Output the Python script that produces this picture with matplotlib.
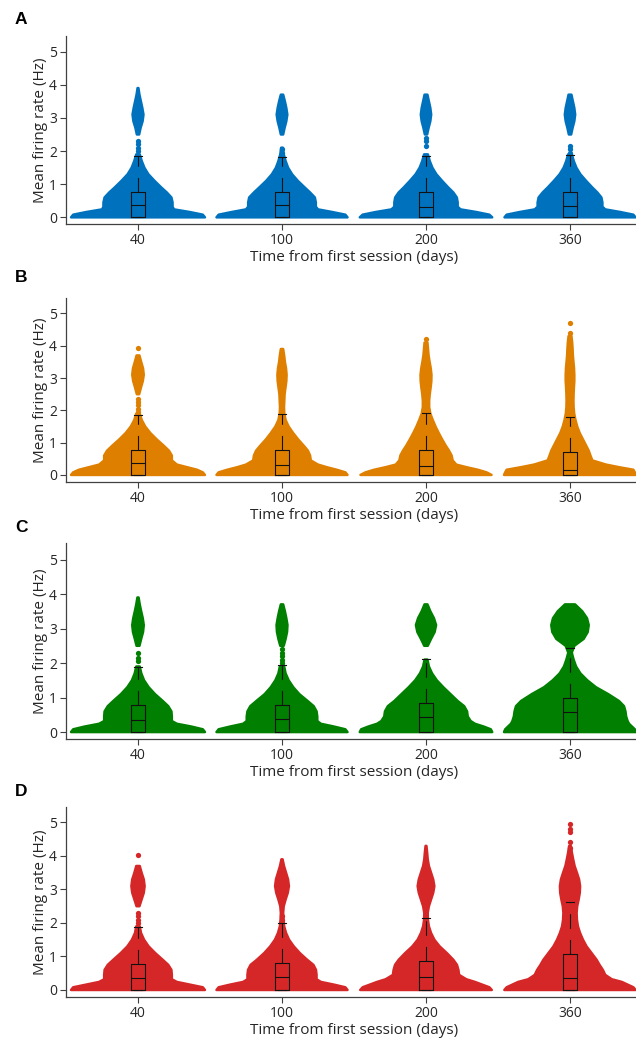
import numpy as np
import matplotlib
matplotlib.use("Agg")
import matplotlib.pyplot as plt

plt.rcParams['font.family'] = ['Open Sans', 'DejaVu Sans']
plt.rcParams['lines.scale_dashes'] = False

# ---------------- data ----------------
DAYS = ['40', '100', '200', '360']
PANELS = ['A', 'B', 'C', 'D']
COLORS = ['#0072BD', '#DF7F00', '#007F00', '#D62728']

# firing-rate levels (Hz) at which violin half-widths were read
LEVELS = [0, 0.08, 0.16, 0.24, 0.32, 0.45, 0.6, 0.75, 0.9, 1.1, 1.3, 1.5, 1.7, 1.9,
          2.1, 2.3, 2.5, 2.7, 2.9, 3.1, 3.3, 3.5, 3.7, 3.9, 4.1, 4.3]

# half-widths of the swarm at each level, per session (40, 100, 200, 360 days)
WIDTH_A = [
    [0.465, 0.45, 0.36, 0.25, 0.24, 0.24, 0.232, 0.2, 0.162, 0.115, 0.072, 0.044, 0.026, 0.012,
     0, 0, 0.008, 0.018, 0.032, 0.038, 0.03, 0.02, 0.01, 0.003, 0, 0],
    [0.455, 0.44, 0.35, 0.25, 0.235, 0.235, 0.228, 0.195, 0.158, 0.11, 0.07, 0.042, 0.025, 0.012,
     0.006, 0, 0.008, 0.018, 0.03, 0.037, 0.03, 0.02, 0.008, 0, 0, 0],
    [0.46, 0.44, 0.35, 0.24, 0.22, 0.22, 0.214, 0.19, 0.155, 0.112, 0.072, 0.044, 0.026, 0.013,
     0, 0, 0.008, 0.018, 0.03, 0.036, 0.03, 0.02, 0.01, 0, 0, 0],
    [0.455, 0.44, 0.35, 0.245, 0.225, 0.225, 0.218, 0.19, 0.155, 0.112, 0.072, 0.044, 0.026, 0.013,
     0, 0, 0.008, 0.018, 0.03, 0.036, 0.03, 0.02, 0.01, 0, 0, 0],
]
WIDTH_B = [
    [0.465, 0.45, 0.41, 0.34, 0.27, 0.235, 0.235, 0.215, 0.18, 0.13, 0.085, 0.05, 0.026, 0.012,
     0, 0, 0.008, 0.02, 0.033, 0.04, 0.035, 0.022, 0.01, 0, 0, 0],
    [0.455, 0.44, 0.38, 0.31, 0.25, 0.20, 0.195, 0.18, 0.152, 0.112, 0.077, 0.046, 0.025, 0.016,
     0.014, 0.016, 0.018, 0.024, 0.03, 0.032, 0.028, 0.02, 0.015, 0.008, 0, 0],
    [0.455, 0.42, 0.36, 0.28, 0.21, 0.185, 0.178, 0.16, 0.138, 0.112, 0.088, 0.066, 0.047, 0.03,
     0.022, 0.022, 0.026, 0.032, 0.037, 0.038, 0.033, 0.025, 0.018, 0.014, 0.01, 0],
    [0.458, 0.45, 0.44, 0.34, 0.25, 0.155, 0.142, 0.13, 0.113, 0.09, 0.067, 0.05, 0.038, 0.029,
     0.025, 0.024, 0.025, 0.027, 0.03, 0.03, 0.028, 0.024, 0.02, 0.018, 0.015, 0.01],
]
WIDTH_C = [
    [0.465, 0.45, 0.37, 0.27, 0.235, 0.235, 0.232, 0.21, 0.172, 0.118, 0.074, 0.042, 0.023, 0.012,
     0, 0, 0.01, 0.022, 0.035, 0.04, 0.033, 0.022, 0.012, 0.004, 0, 0],
    [0.455, 0.44, 0.36, 0.27, 0.245, 0.245, 0.24, 0.22, 0.178, 0.12, 0.078, 0.046, 0.025, 0.015,
     0, 0, 0.012, 0.025, 0.035, 0.038, 0.03, 0.02, 0.008, 0, 0, 0],
    [0.46, 0.45, 0.40, 0.34, 0.31, 0.29, 0.285, 0.265, 0.22, 0.17, 0.12, 0.075, 0.042, 0.02,
     0.01, 0, 0.012, 0.035, 0.06, 0.07, 0.055, 0.03, 0.01, 0, 0, 0],
    [0.458, 0.45, 0.43, 0.41, 0.40, 0.39, 0.385, 0.375, 0.34, 0.265, 0.18, 0.12, 0.072, 0.042,
     0.025, 0.012, 0.03, 0.095, 0.123, 0.13, 0.118, 0.085, 0.035, 0, 0, 0],
]
WIDTH_D = [
    [0.465, 0.45, 0.36, 0.27, 0.235, 0.235, 0.232, 0.21, 0.172, 0.12, 0.074, 0.042, 0.021, 0.012,
     0, 0, 0.01, 0.025, 0.04, 0.046, 0.04, 0.025, 0.012, 0, 0, 0],
    [0.455, 0.44, 0.36, 0.27, 0.24, 0.24, 0.236, 0.218, 0.175, 0.124, 0.082, 0.049, 0.028, 0.015,
     0.01, 0.008, 0.012, 0.025, 0.04, 0.048, 0.042, 0.028, 0.014, 0.004, 0, 0],
    [0.457, 0.44, 0.39, 0.34, 0.28, 0.23, 0.225, 0.215, 0.19, 0.145, 0.095, 0.058, 0.035, 0.02,
     0.013, 0.012, 0.02, 0.035, 0.05, 0.058, 0.05, 0.035, 0.02, 0.012, 0.008, 0.003],
    [0.456, 0.44, 0.40, 0.36, 0.29, 0.245, 0.228, 0.205, 0.185, 0.15, 0.115, 0.09, 0.07, 0.055,
     0.048, 0.046, 0.05, 0.06, 0.068, 0.07, 0.063, 0.048, 0.032, 0.022, 0.013, 0.006],
]

# isolated cells (Hz) on the centre line
OUTLIERS_A = [[2.0, 2.1, 2.2, 2.3], [1.95, 2.05], [2.15, 2.3, 2.4], [1.95, 2.05, 2.15]]
OUTLIERS_B = [[1.95, 2.05, 2.15, 2.25, 2.35, 3.93], [], [4.2], [4.4, 4.72]]
OUTLIERS_C = [[2.05, 2.15, 2.3], [2.0, 2.1, 2.2, 2.3, 2.4], [], [2.2, 2.3]]
OUTLIERS_D = [[2.0, 2.1, 2.2, 2.3, 4.04], [2.0, 2.1, 2.2], [], [4.24, 4.41, 4.71, 4.81, 4.96]]

# box-plot statistics (Hz)
Q1_A = [0, 0, 0, 0]
MED_A = [0.36, 0.36, 0.32, 0.34]
Q3_A = [0.75, 0.75, 0.75, 0.75]
HI_A = [1.85, 1.82, 1.85, 1.89]
Q1_B = [0, 0, 0, 0]
MED_B = [0.36, 0.30, 0.29, 0.15]
Q3_B = [0.78, 0.78, 0.77, 0.72]
HI_B = [1.87, 1.90, 1.93, 1.80]
Q1_C = [0, 0, 0, 0]
MED_C = [0.36, 0.38, 0.45, 0.58]
Q3_C = [0.77, 0.79, 0.85, 1.00]
HI_C = [1.88, 1.93, 2.12, 2.45]
Q1_D = [0, 0, 0, 0]
MED_D = [0.36, 0.38, 0.38, 0.37]
Q3_D = [0.77, 0.81, 0.87, 1.07]
HI_D = [1.89, 2.00, 2.16, 2.64]

YTICKS = [0, 1, 2, 3, 4, 5]
XLABEL = 'Time from first session (days)'
YLABEL = 'Mean firing rate (Hz)'

WIDTHS = [WIDTH_A, WIDTH_B, WIDTH_C, WIDTH_D]
OUTLIERS = [OUTLIERS_A, OUTLIERS_B, OUTLIERS_C, OUTLIERS_D]
STATS = [(Q1_A, MED_A, Q3_A, HI_A), (Q1_B, MED_B, Q3_B, HI_B),
         (Q1_C, MED_C, Q3_C, HI_C), (Q1_D, MED_D, Q3_D, HI_D)]

# ---------------- layout (pixels of a 636x1040 figure) ----------------
W, H = 636, 1040
AX_LEFT, AX_RIGHT = 66, 642
AX_TB = [(36, 224.3), (298.3, 481.7), (543.3, 739.3), (806.7, 997)]
LETTER_Y = [20, 278, 527, 792]
INK = '#262626'


def draw_violin(ax, pos, widths, color):
    y = np.asarray(LEVELS, float)
    w = np.asarray(widths, float)
    pos_mask = w > 0
    i = 0
    n = len(w)
    while i < n:
        if pos_mask[i]:
            j = i
            while j + 1 < n and pos_mask[j + 1]:
                j += 1
            ys = y[i:j + 1]
            ws = w[i:j + 1]
            xs = np.concatenate([pos - ws, (pos + ws)[::-1]])
            yy = np.concatenate([ys, ys[::-1]])
            ax.fill(xs, yy, facecolor=color, edgecolor=color, lw=1.8,
                    joinstyle='round', zorder=1)
            i = j + 1
        else:
            i += 1


fig = plt.figure(figsize=(W / 100, H / 100), dpi=100)
positions = np.arange(len(DAYS))

for p, letter in enumerate(PANELS):
    top, bot = AX_TB[p]
    ax = fig.add_axes([AX_LEFT / W, 1 - bot / H, (AX_RIGHT - AX_LEFT) / W, (bot - top) / H])
    color = COLORS[p]
    for k, pos in enumerate(positions):
        draw_violin(ax, pos, WIDTHS[p][k], color)
        outs = OUTLIERS[p][k]
        if outs:
            ax.plot(np.full(len(outs), pos), outs, 'o', ms=3.8, color=color,
                    mec='none', zorder=1)
    q1, med, q3, hi = STATS[p]
    bstats = [dict(med=med[k], q1=q1[k], q3=q3[k], whislo=q1[k], whishi=hi[k], fliers=[])
              for k in range(len(DAYS))]
    ax.bxp(bstats, positions=positions, widths=0.1, capwidths=0.055,
           showfliers=False, manage_ticks=False, zorder=3,
           boxprops=dict(color='#111111', lw=0.8),
           medianprops=dict(color='#111111', lw=0.8),
           whiskerprops=dict(color='#111111', lw=0.8, linestyle=(0, (10.5, 8))),
           capprops=dict(color='#111111', lw=0.8))

    ax.set_xlim(-0.5, 3.5)
    ax.set_ylim(-0.21, 5.47)
    ax.set_xticks(positions)
    ax.set_xticklabels(DAYS)
    ax.set_yticks(YTICKS)
    for s in ('top', 'right'):
        ax.spines[s].set_visible(False)
    for s in ('left', 'bottom'):
        ax.spines[s].set_color('#404040')
        ax.spines[s].set_linewidth(0.9)
    ax.tick_params(direction='out', length=4, width=0.8, color='#404040',
                   labelsize=10, labelcolor=INK, pad=2.5)
    hpx = bot - top
    ax.set_xlabel(XLABEL, fontsize=11, color=INK)
    ax.xaxis.set_label_coords(0.5, -26 / hpx)
    ax.set_ylabel(YLABEL, fontsize=11, color=INK)
    ax.yaxis.set_label_coords(-0.031, 0.5)

    fig.text(21 / W, 1 - LETTER_Y[p] / H, letter, fontsize=12.5, fontweight='bold',
             family=['Liberation Sans', 'DejaVu Sans'], ha='center', va='center', color='black')

fig.savefig('out.png', dpi=100)
